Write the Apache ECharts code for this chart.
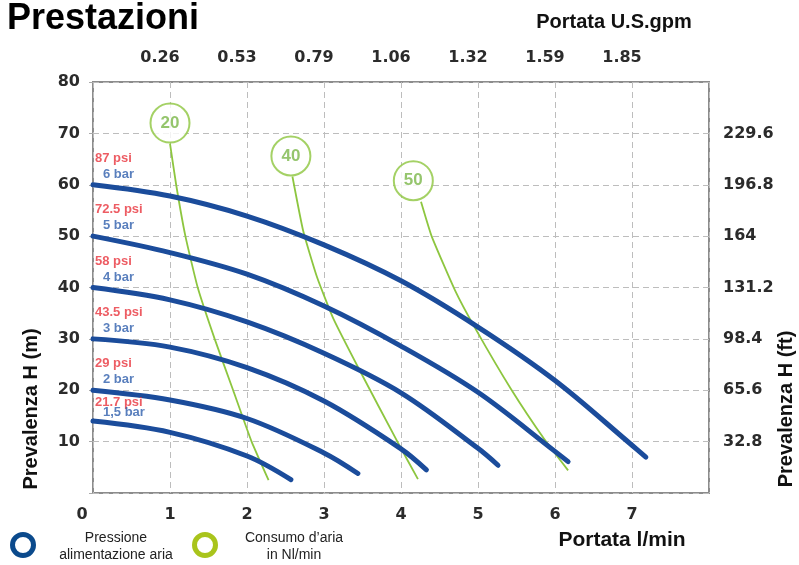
<!DOCTYPE html>
<html>
<head>
<meta charset="utf-8">
<script src="https://cdn.jsdelivr.net/npm/echarts@6/dist/echarts.min.js"></script>
<style>
  html, body { margin: 0; padding: 0; background: #fff; }
  #chart { width: 799px; height: 565px; }
</style>
</head>
<body>
<div id="chart"></div>
<script>
const chart = echarts.init(document.getElementById("chart"));

// top and right tick labels
const gpmLabels = ['0.26', '0.53', '0.79', '1.06', '1.32', '1.59', '1.85'];
const ftLabels = ['32.8', '65.6', '98.4', '131.2', '164', '196.8', '229.6'];

// pressure curves: [portata l/min, prevalenza m]
const bar15 = [[0, 14], [1, 11.8], [2, 7.2], [2.57, 2.6]];
const bar2 = [[0, 20], [1, 18.1], [2, 14.5], [3, 7.8], [3.44, 3.8]];
const bar3 = [[0, 30], [1, 28.4], [2, 24.4], [3, 17.9], [4, 8.6], [4.33, 4.5]];
const bar4 = [[0, 40], [1, 37.6], [2, 33.3], [3, 27.2], [4, 19.5], [5, 8.7], [5.26, 5.4]];
const bar5 = [[0, 50], [1, 46.8], [2, 42.6], [3, 36.4], [4, 28.6], [5, 19.6], [6, 8.1], [6.17, 6.1]];
const bar6 = [[0, 60], [1, 57.8], [2, 53.9], [3, 48.3], [4, 41.3], [5, 32.3], [6, 21.9], [7, 9.3], [7.18, 7.0]];
const barLabels = ['1,5 bar', '2 bar', '3 bar', '4 bar', '5 bar', '6 bar'];
const psiLabels = ['21.7 psi', '29 psi', '43.5 psi', '58 psi', '72.5 psi', '87 psi'];

// air consumption lines (Nl/min)
const air20 = [[1, 68], [1.08, 60], [1.2, 50], [1.36, 40], [1.58, 30], [1.82, 20], [2.06, 10], [2.28, 2.5]];
const air40 = [[2.59, 61.6], [2.73, 51], [2.91, 42], [3.12, 34], [3.48, 23.4], [3.96, 9.8], [4.22, 2.7]];
const air50 = [[4.26, 56.7], [4.40, 49.9], [4.70, 39.5], [4.97, 31.9], [5.43, 20.2], [5.86, 10.5], [6.17, 4.4]];
const airLabels = ['20', '40', '50'];
const airCircles = [[1, 72], [2.57, 65.6], [4.16, 60.8]];

const BLUE = '#1b4c9b';
const GREEN = '#8dc63f';
const numFont = { fontFamily: 'DejaVu Sans', fontWeight: 'bold', fontSize: 16, color: '#2b2b2b' };
const headFont = 'Liberation Sans';

const bars = [bar15, bar2, bar3, bar4, bar5, bar6];
const airs = [air20, air40, air50];

let series = [];

airs.forEach(function (d, i) {
    series.push({
        type: 'line',
        name: 'aria ' + airLabels[i],
        data: d,
        smooth: 0.15,
        showSymbol: false,
        silent: true,
        z: 2,
        lineStyle: { color: GREEN, width: 1.8 }
    });
});

bars.forEach(function (d, i) {
    series.push({
        type: 'line',
        name: barLabels[i],
        data: d,
        smooth: 0.35,
        showSymbol: false,
        silent: true,
        z: 3,
        lineStyle: { color: BLUE, width: 5, cap: 'round' }
    });
});

const labelRich = function (lh) {
    return {
        p: { color: '#e8333c', fontSize: 13, fontWeight: 'bold', fontFamily: headFont, lineHeight: lh, padding: [0, 0, 0, 2] },
        b: { color: '#2f5fad', fontSize: 13, fontWeight: 'bold', fontFamily: headFont, lineHeight: lh, padding: [0, 0, 0, 10] }
    };
};

// pressure labels, anchored at the start of each curve
series.push({
    type: 'scatter',
    symbolSize: 1,
    itemStyle: { color: 'transparent' },
    silent: true,
    z: 5,
    data: bars.map(function (d, i) {
        // the lowest label is squeezed between two curves
        return i === 0
            ? { value: d[0], label: { offset: [0, -1], rich: labelRich(10) } }
            : { value: d[0] };
    }),
    label: {
        show: true,
        position: 'top',
        align: 'left',
        distance: 2,
        formatter: function (p) {
            return '{p|' + psiLabels[p.dataIndex] + '}\n{b|' + barLabels[p.dataIndex] + '}';
        },
        rich: labelRich(16)
    }
});

// air circles
series.push({
    type: 'scatter',
    symbol: 'circle',
    symbolSize: 39,
    silent: true,
    z: 6,
    itemStyle: { color: '#fff', borderColor: GREEN, borderWidth: 2 },
    data: airCircles.map(function (c, i) { return { value: c, name: airLabels[i] }; }),
    label: {
        show: true,
        position: 'inside',
        formatter: '{b}',
        color: '#7ab648',
        fontSize: 17,
        fontWeight: 'bold',
        fontFamily: headFont
    }
});

const option = {
    animation: false,
    backgroundColor: '#fff',
    grid: {
        left: 93, right: 90, top: 82, bottom: 72,
        show: true, borderColor: '#8c8c8c', borderWidth: 2
    },
    xAxis: [{
        type: 'value',
        position: 'bottom',
        min: 0, max: 8, interval: 1,
        axisLine: { show: false },
        axisTick: { show: false },
        splitLine: { show: true, lineStyle: { color: '#bdbdbd', type: [6, 4] } },
        axisLabel: Object.assign({
            margin: 14,
            formatter: function (v) {
                if (v === 0) return '{z|0}';
                return v < 8 ? String(v) : '';
            },
            rich: { z: Object.assign({ padding: [0, 22, 0, 0] }, numFont) }
        }, numFont)
    }, {
        type: 'value',
        position: 'top',
        min: 0, max: 8, interval: 1,
        axisLine: { show: false },
        axisTick: { show: false },
        splitLine: { show: false },
        axisLabel: Object.assign({
            margin: 16,
            padding: [0, 20, 0, 0],
            formatter: function (v) { return v >= 1 && v <= 7 ? gpmLabels[v - 1] : ''; }
        }, numFont)
    }],
    yAxis: [{
        type: 'value',
        position: 'left',
        min: 0, max: 80, interval: 10,
        axisLine: { show: false },
        axisTick: { show: false },
        splitLine: { show: true, lineStyle: { color: '#bdbdbd', type: [6, 4] } },
        axisLabel: Object.assign({
            margin: 13,
            formatter: function (v) { return v > 0 ? String(v) : ''; }
        }, numFont)
    }, {
        type: 'value',
        position: 'right',
        min: 0, max: 80, interval: 10,
        axisLine: { show: false },
        axisTick: { show: true, inside: true, length: 4, lineStyle: { color: '#aaa' } },
        splitLine: { show: false },
        axisLabel: Object.assign({
            margin: 14,
            formatter: function (v) { return v >= 10 && v <= 70 ? ftLabels[v / 10 - 1] : ''; }
        }, numFont)
    }],
    graphic: [
        { type: 'text', x: 7, y: 19, style: { text: 'Prestazioni', font: 'bold 36px "Liberation Sans"', fill: '#000', textVerticalAlign: 'middle' } },
        { type: 'text', x: 614, y: 22, style: { text: 'Portata U.S.gpm', font: 'bold 20px "Liberation Sans"', fill: '#111', textAlign: 'center', textVerticalAlign: 'middle' } },
        { type: 'text', x: 622, y: 540, style: { text: 'Portata l/min', font: 'bold 21px "Liberation Sans"', fill: '#111', textAlign: 'center', textVerticalAlign: 'middle' } },
        { type: 'text', x: 31, y: 409, rotation: Math.PI / 2, style: { text: 'Prevalenza H (m)', font: 'bold 20px "Liberation Sans"', fill: '#111', textAlign: 'center', textVerticalAlign: 'middle' } },
        { type: 'text', x: 786, y: 409, rotation: Math.PI / 2, style: { text: 'Prevalenza H (ft)', font: 'bold 20px "Liberation Sans"', fill: '#111', textAlign: 'center', textVerticalAlign: 'middle' } },
        { type: 'circle', shape: { cx: 23, cy: 545, r: 10.5 }, style: { fill: 'none', stroke: '#0b4a8c', lineWidth: 5 } },
        { type: 'circle', shape: { cx: 205, cy: 545, r: 10.5 }, style: { fill: 'none', stroke: '#a9c41c', lineWidth: 5 } },
        { type: 'text', x: 116, y: 538, style: { text: 'Pressione', font: '14px "Liberation Sans"', fill: '#222', textAlign: 'center', textVerticalAlign: 'middle' } },
        { type: 'text', x: 116, y: 555, style: { text: 'alimentazione aria', font: '14px "Liberation Sans"', fill: '#222', textAlign: 'center', textVerticalAlign: 'middle' } },
        { type: 'text', x: 294, y: 538, style: { text: 'Consumo d\u2019aria', font: '14px "Liberation Sans"', fill: '#222', textAlign: 'center', textVerticalAlign: 'middle' } },
        { type: 'text', x: 294, y: 555, style: { text: 'in Nl/min', font: '14px "Liberation Sans"', fill: '#222', textAlign: 'center', textVerticalAlign: 'middle' } }
    ],
    series: series
};

chart.setOption(option);
</script>
</body>
</html>
